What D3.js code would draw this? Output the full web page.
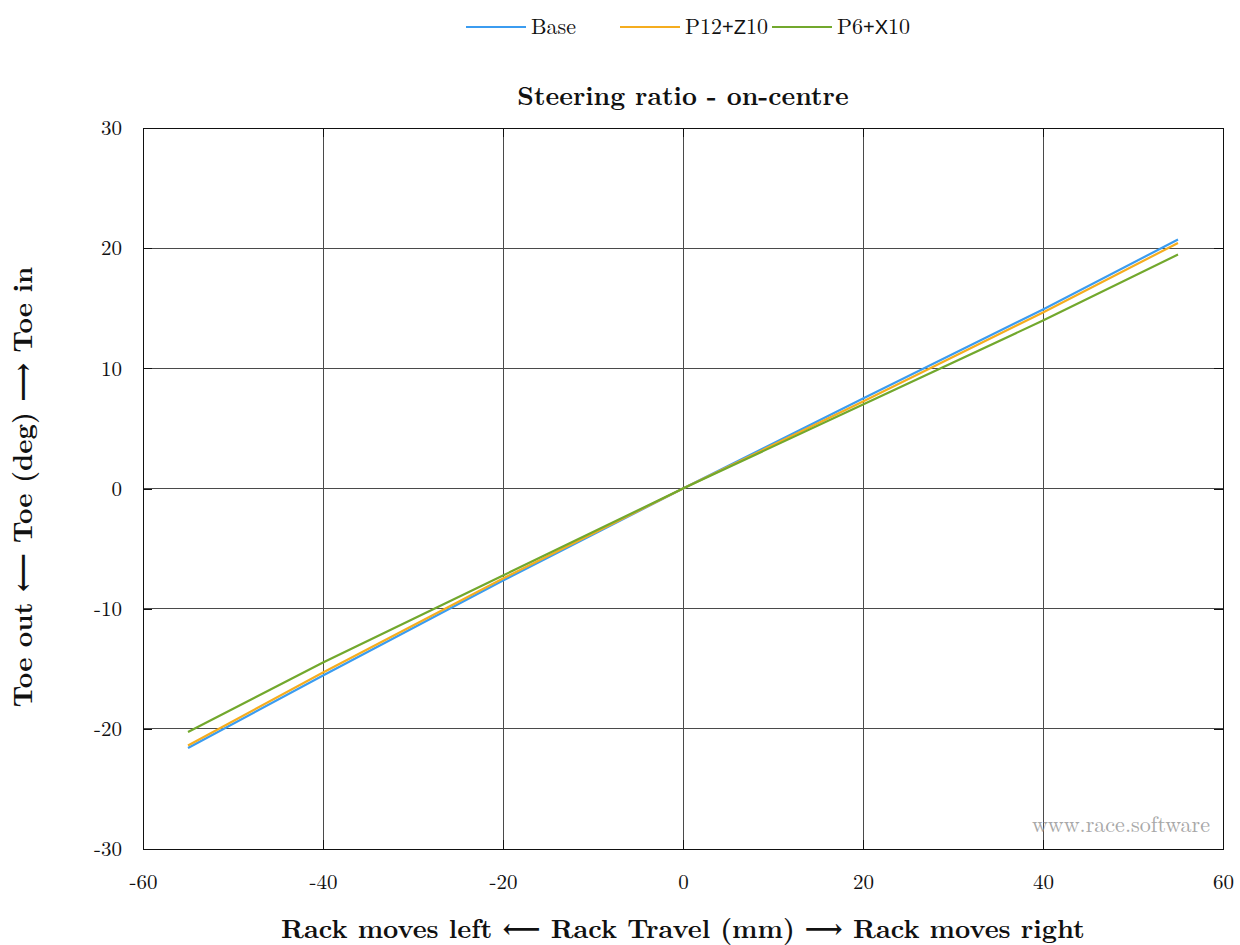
<!DOCTYPE html>
<html>
<head>
<meta charset="utf-8">
<script src="https://cdn.jsdelivr.net/npm/d3@7"></script>
<style>
  body { margin: 0; background: #fff; }
  svg text { font-family: "Latin Modern Roman", "Liberation Serif", "DejaVu Serif", serif; }
</style>
</head>
<body>
<svg id="chart" width="1240" height="945"></svg>
<script>
// Rack travel (mm) against toe angle (deg) for three steering setups
const rackTravel = [-55, -40, -20, 0, 20, 40, 55];
const toeBase    = [-21.6, -15.56, -7.66, 0, 7.49, 14.9, 20.72];
const toeP12Z10  = [-21.39, -15.31, -7.49, 0, 7.24, 14.65, 20.43];
const toeP6X10   = [-20.26, -14.48, -7.24, 0, 6.99, 13.98, 19.47];

const xTicks = [-60, -40, -20, 0, 20, 40, 60];
const yTicks = [-30, -20, -10, 0, 10, 20, 30];

const series = [
  { name: "Base",    values: toeBase,   color: "#3b9cf0", label: [["Base", "serif"]] },
  { name: "P12+Z10", values: toeP12Z10, color: "#f5ad1f", label: [["P12", "serif"], ["+Z", "sans"], ["10", "serif"]] },
  { name: "P6+X10",  values: toeP6X10,  color: "#72a82d", label: [["P6", "serif"], ["+X", "sans"], ["10", "serif"]] }
];

const svg = d3.select("#chart");
const margin = { left: 143, right: 1223, top: 128, bottom: 849 };

const x = d3.scaleLinear().domain([-60, 60]).range([margin.left, margin.right]);
const y = d3.scaleLinear().domain([-30, 30]).range([margin.bottom, margin.top]);

// grid
const grid = svg.append("g");
grid.selectAll("line.vx").data(xTicks.slice(1, -1)).enter().append("line")
  .attr("x1", d => x(d)).attr("x2", d => x(d))
  .attr("y1", margin.top).attr("y2", margin.bottom)
  .attr("stroke", "#4a4a4a").attr("stroke-width", 1).attr("shape-rendering", "crispEdges");
grid.selectAll("line.hy").data(yTicks.slice(1, -1)).enter().append("line")
  .attr("x1", margin.left).attr("x2", margin.right)
  .attr("y1", d => y(d)).attr("y2", d => y(d))
  .attr("stroke", "#4a4a4a").attr("stroke-width", 1).attr("shape-rendering", "crispEdges");

// axes with inward ticks on all four sides
const tickLen = 9;
const fmt = d => d < 0 ? "-" + Math.abs(d) : String(d);
const axB = d3.axisBottom(x).tickValues(xTicks).tickSize(-tickLen).tickPadding(25).tickFormat(fmt);
const axT = d3.axisTop(x).tickValues(xTicks).tickSize(-tickLen).tickFormat("");
const axL = d3.axisLeft(y).tickValues(yTicks).tickSize(-tickLen).tickPadding(21).tickFormat(fmt);
const axR = d3.axisRight(y).tickValues(yTicks).tickSize(-tickLen).tickFormat("");

function styleAxis(g) {
  g.select(".domain").remove();
  g.selectAll(".tick line").attr("stroke", "#111").attr("shape-rendering", "crispEdges");
  g.selectAll(".tick text").attr("fill", "#111").attr("font-size", 21)
    .attr("font-family", "\"Latin Modern Roman\", \"Liberation Serif\", serif");
}
svg.append("g").attr("transform", `translate(0,${margin.bottom})`).call(axB).call(styleAxis);
svg.append("g").attr("transform", `translate(0,${margin.top})`).call(axT).call(styleAxis);
svg.append("g").attr("transform", `translate(${margin.left},0)`).call(axL).call(styleAxis);
svg.append("g").attr("transform", `translate(${margin.right},0)`).call(axR).call(styleAxis);

// frame
svg.append("rect")
  .attr("x", margin.left).attr("y", margin.top)
  .attr("width", margin.right - margin.left).attr("height", margin.bottom - margin.top)
  .attr("fill", "none").attr("stroke", "#111").attr("stroke-width", 1).attr("shape-rendering", "crispEdges");

// watermark
svg.append("text").attr("x", 1210).attr("y", 832).attr("text-anchor", "end")
  .attr("font-size", 22).attr("fill", "#a8a8a8").text("www.race.software");

// series lines
const line = d3.line().x((d, i) => x(rackTravel[i])).y(d => y(d));
series.forEach(s => {
  svg.append("path").datum(s.values)
    .attr("d", line).attr("fill", "none")
    .attr("stroke", s.color).attr("stroke-width", 2.2);
});

// title and axis labels
svg.append("text").attr("x", 683).attr("y", 105).attr("text-anchor", "middle")
  .attr("font-size", 26).attr("font-weight", "bold").attr("fill", "#111")
  .text("Steering ratio - on-centre");
svg.append("text").attr("x", 683).attr("y", 938).attr("text-anchor", "middle")
  .attr("font-size", 26.5).attr("font-weight", "bold").attr("fill", "#111")
  .text("Rack moves left \u27f5 Rack Travel (mm) \u27f6 Rack moves right");
svg.append("text").attr("transform", "translate(32,487) rotate(-90)").attr("text-anchor", "middle")
  .attr("font-size", 27).attr("font-weight", "bold").attr("fill", "#111")
  .text("Toe out \u27f5 Toe (deg) \u27f6 Toe in");

// legend
const legendPos = [466, 620, 772];
series.forEach((s, i) => {
  const lx = legendPos[i];
  svg.append("line").attr("x1", lx).attr("x2", lx + 60).attr("y1", 27).attr("y2", 27)
    .attr("stroke", s.color).attr("stroke-width", 2);
  const t = svg.append("text").attr("x", lx + 65).attr("y", 34).attr("font-size", 22).attr("fill", "#111");
  s.label.forEach(([txt, kind]) => {
    t.append("tspan").text(txt)
      .attr("font-family", kind === "sans" ? "\"Liberation Sans\", Arial, sans-serif" : "\"Latin Modern Roman\", \"Liberation Serif\", serif")
      .attr("font-size", kind === "sans" ? 20 : 22);
  });
});
</script>
</body>
</html>
